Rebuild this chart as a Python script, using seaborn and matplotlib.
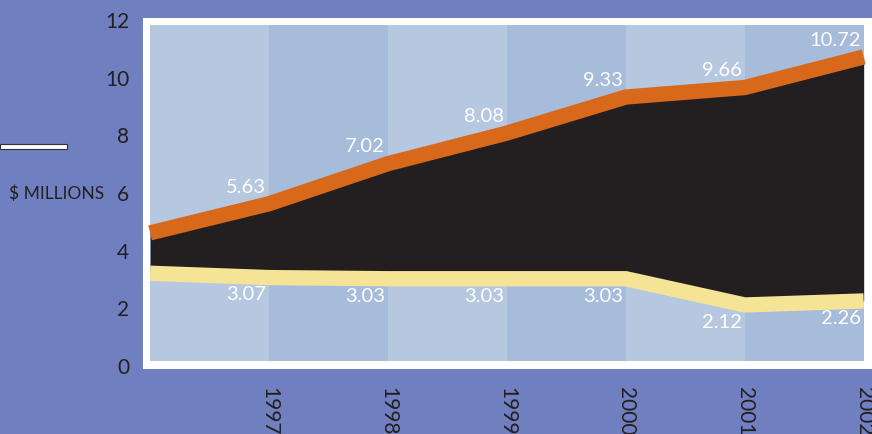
#!/usr/bin/env python3

import numpy as np
import pandas as pd
import seaborn as sns
import matplotlib.pyplot as plt
from matplotlib.patches import Rectangle

# data (1996 edge point is unlabeled)
years = [1996, 1997, 1998, 1999, 2000, 2001, 2002]
upper = [4.62, 5.63, 7.02, 8.08, 9.33, 9.66, 10.72]
lower = [3.22, 3.07, 3.03, 3.03, 3.03, 2.12, 2.26]
label_years = [1997, 1998, 1999, 2000, 2001, 2002]
y_ticks = [0, 2, 4, 6, 8, 10, 12]

BG = "#6f7fbf"
BAND_LIGHT = "#b6c8e0"
BAND_DARK = "#a7bbdb"
ORANGE = "#d9691a"
YELLOW = "#f6e496"
BLACK = "#231f20"
TEXT = "#231f20"

df = pd.DataFrame({"year": years, "upper": upper, "lower": lower})

sns.set_theme(style="white")
plt.rcParams["font.family"] = ["Lato", "DejaVu Sans"]

fig = plt.figure(figsize=(8.72, 4.34), dpi=100, facecolor=BG)
# axes = white frame
ax = fig.add_axes([143 / 872, 1 - 369 / 434, 729 / 872, 351 / 434])
ax.set_facecolor("white")
ax.set_xlim(1995.94, 2002.07)
ax.set_ylim(-0.1, 12.07)

# alternating background bands, inset inside the white frame
band_lo, band_hi = 0.17, 11.84
for i, y0 in enumerate(years[:-1]):
    color = BAND_LIGHT if i % 2 == 0 else BAND_DARK
    ax.add_patch(Rectangle((y0, band_lo), 1, band_hi - band_lo,
                           facecolor=color, edgecolor="none", zorder=0))

ax.fill_between(df["year"], df["lower"], df["upper"], color=BLACK,
                linewidth=0, zorder=1)
sns.lineplot(data=df, x="year", y="upper", ax=ax, color=ORANGE,
             linewidth=11, zorder=2, solid_capstyle="butt",
             solid_joinstyle="miter")
sns.lineplot(data=df, x="year", y="lower", ax=ax, color=YELLOW,
             linewidth=11, zorder=2, solid_capstyle="butt",
             solid_joinstyle="miter")

for yr, u, l in zip(years, upper, lower):
    if yr not in label_years:
        continue
    ax.annotate(f"{u:.2f}", (yr, u), xytext=(-2, 12),
                textcoords="offset points", ha="right", va="center",
                color="white", fontsize=14.5, zorder=3)
    ax.annotate(f"{l:.2f}", (yr, l), xytext=(-2, -12.5),
                textcoords="offset points", ha="right", va="center",
                color="white", fontsize=14.5, zorder=3)

ax.set_xticks(label_years)
ax.set_xticklabels([str(y) for y in label_years], rotation=-90,
                   va="top", ha="center")
ax.set_yticks(y_ticks)
ax.set_yticklabels([str(t) for t in y_ticks])
ax.tick_params(axis="both", length=0, labelsize=15, colors=TEXT)
ax.tick_params(axis="y", pad=10)
ax.tick_params(axis="x", pad=13)
ax.set_xlabel("")
ax.set_ylabel("")
for s in ax.spines.values():
    s.set_visible(False)

fig.text(104 / 872, 1 - 194 / 434, "$ MILLIONS", ha="right", va="center",
         fontsize=12.5, color=TEXT)
fig.add_artist(Rectangle((0, 1 - 149 / 434), 67 / 872, 4.5 / 434,
                         transform=fig.transFigure, facecolor="white",
                         edgecolor="#333333", linewidth=0.8))

fig.savefig("out.png", dpi=100, facecolor=BG)
